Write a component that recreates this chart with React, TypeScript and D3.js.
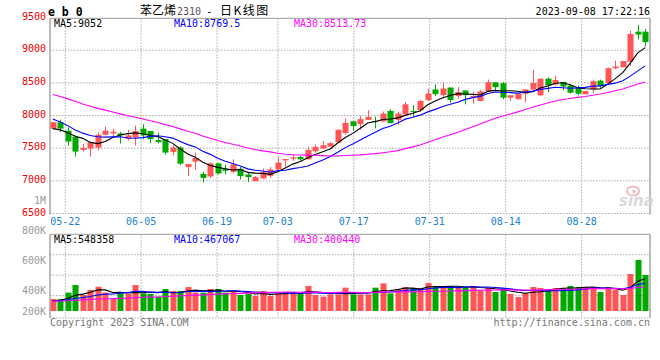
import React from 'react';
import * as d3 from 'd3';

// ---------- data ----------
const dates = [
  '05-18','05-19','05-22','05-23','05-24','05-25','05-26','05-29','05-30','05-31',
  '06-01','06-02','06-05','06-06','06-07','06-08','06-09','06-12','06-13','06-14',
  '06-15','06-16','06-19','06-20','06-21','06-26','06-27','06-28','06-29','06-30',
  '07-03','07-04','07-05','07-06','07-07','07-10','07-11','07-12','07-13','07-14',
  '07-17','07-18','07-19','07-20','07-21','07-24','07-25','07-26','07-27','07-28',
  '07-31','08-01','08-02','08-03','08-04','08-07','08-08','08-09','08-10','08-11',
  '08-14','08-15','08-16','08-17','08-18','08-21','08-22','08-23','08-24','08-25',
  '08-28','08-29','08-30','08-31','09-01','09-04','09-05','09-06','09-07','09-08'
];
const opens = [
  7800,7897,7768,7675,7474,7495,7510,7706,7727,7727,
  7644,7665,7799,7763,7624,7639,7443,7510,7211,7294,
  7105,7067,7268,7186,7139,7186,7098,6995,7036,7077,
  7175,7314,7340,7366,7330,7454,7495,7526,7588,7732,
  7912,7869,7934,7914,7909,8071,7934,8020,8071,8081,
  8237,8399,8313,8429,8298,8384,8278,8222,8374,8510,
  8495,8275,8250,8335,8400,8310,8565,8475,8515,8460,
  8425,8325,8400,8535,8500,8725,8740,8825,9285,9285
];
const highs = [
  7900,7938,7820,7696,7567,7603,7742,7830,7799,7747,
  7783,7845,7866,7763,7737,7639,7551,7531,7258,7433,
  7140,7278,7278,7247,7330,7211,7139,7072,7191,7211,
  7361,7335,7407,7381,7520,7557,7613,7598,7783,7959,
  7918,7995,8081,7985,8061,8096,8056,8207,8157,8237,
  8409,8475,8500,8429,8434,8384,8369,8394,8551,8510,
  8515,8310,8340,8400,8700,8570,8585,8610,8515,8475,
  8460,8375,8550,8550,8735,8840,8835,9300,9385,9325
];
const lows = [
  7795,7747,7541,7371,7448,7371,7464,7696,7680,7572,
  7619,7541,7639,7577,7577,7402,7386,7242,7072,7170,
  6975,7046,7098,7098,7119,7021,6979,6995,7036,7046,
  7165,7216,7304,7314,7330,7433,7485,7515,7588,7706,
  7768,7783,7934,7803,7909,7884,7859,7995,7985,8056,
  8222,8298,8263,8197,8263,8172,8182,8222,8374,8374,
  8250,8225,8250,8200,8400,8300,8360,8460,8385,8335,
  8310,8325,8350,8425,8500,8710,8740,8760,9165,9060
];
const closes = [
  7897,7800,7603,7448,7505,7588,7706,7768,7752,7696,
  7696,7763,7696,7639,7593,7433,7510,7263,7258,7350,
  7045,7268,7113,7155,7253,7072,7057,7057,7134,7175,
  7278,7335,7360,7330,7474,7520,7546,7577,7783,7887,
  7840,7945,7980,7899,8030,7884,8030,8172,8061,8222,
  8338,8328,8414,8237,8359,8313,8298,8369,8510,8434,
  8274,8310,8335,8400,8500,8565,8460,8545,8445,8350,
  8335,8375,8525,8450,8725,8750,8835,9250,9240,9125
];
// closes of the 29 sessions before the window (only feed the moving averages)
const prevCloses = [
  8690,8720,8650,8700,8620,8640,8580,8600,8560,8530,
  8480,8500,8430,8450,8380,8400,8330,8350,8280,8300,
  8250,8180,8100,8000,7950,7900,7820,7720,7664
];
const volumes = [
  180000,180000,296000,436000,253000,344000,405000,296000,192000,283000,
  271000,436000,283000,271000,222000,363000,326000,326000,399000,296000,
  296000,363000,363000,296000,314000,253000,271000,235000,326000,235000,
  283000,308000,302000,283000,418000,253000,222000,265000,265000,387000,
  265000,265000,265000,387000,466000,283000,363000,399000,381000,381000,
  472000,399000,399000,418000,381000,399000,418000,332000,381000,308000,
  344000,271000,216000,289000,399000,381000,338000,381000,381000,418000,
  399000,399000,399000,308000,399000,344000,253000,637000,893000,619000
];
const prevVolumes = [
  120000,135000,110000,150000,128000,142000,118000,160000,132000,145000,
  125000,138000,150000,128000,165000,140000,135000,158000,130000,148000,
  162000,138000,155000,142000,150000,128000,135000,150000,140000
];
const priceTicks = [9500, 9000, 8500, 8000, 7500, 7000, 6500];
const dateTicks = ['05-22','06-05','06-19','07-03','07-17','07-31','08-14','08-28'];
const volTicks = [800000, 600000, 400000, 200000];
const priceLegend = ['MA5:9052', 'MA10:8769.5', 'MA30:8513.73'];
const volLegend = ['MA5:548358', 'MA10:467067', 'MA30:400440'];
const maPeriods = [5, 10, 30];
const maColors = ['#000000', '#0000ff', '#ff00ff'];

// ---------- helpers ----------
function movingAvg(prev: number[], data: number[], n: number): number[] {
  const all = prev.concat(data);
  return data.map((_, i) => {
    const end = prev.length + i;
    return d3.mean(all.slice(end - n + 1, end + 1)) as number;
  });
}

const W = 660, H = 360;
const L = 50, R = 650;
const pTop = 18.3, pBot = 213.5;
const vTop = 234.3, vBot = 318, vBase = 311;
const RED = '#ff5555', GREEN = '#00a800';
const GRID = '#aaaaaa', FRAME = '#999999';
const MONO = '"DejaVu Sans Mono", "Liberation Mono", monospace';

export default function App() {
  const idx = d3.range(closes.length);
  const x = d3.scaleBand<number>().domain(idx).range([L - 1, R - 1]);
  const cx = (i: number) => (x(i) as number) + x.bandwidth() / 2;
  const gx = d3.scaleLinear().domain([0, closes.length - 1]).range([L, R]);
  const yP = d3.scaleLinear().domain([6500, 9500]).range([pBot, 17.6]);
  const yV = d3.scaleLinear().domain([-40000, 960000]).range([vBase, vBase - 1000 / 18.3]);
  const yVLabel = d3.scaleLinear().domain([400000, 800000]).range([290, 230]);

  const priceMA = maPeriods.map(n => movingAvg(prevCloses, closes, n));
  const volMA = maPeriods.map(n => movingAvg(prevVolumes, volumes, n));
  const lineP = d3.line<number>().x((_, i) => cx(i)).y(v => yP(v));
  const lineV = d3.line<number>().x((_, i) => cx(i)).y(v => yV(v));

  const gridXs = dateTicks.map(d => gx(dates.indexOf(d)));
  const vGridYs = d3.range(1, 4).map(k => vTop + (k * (316 - vTop)) / 4);
  const legendX = [54, 174, 294];

  return (
    <svg width={W} height={H} style={{ position: 'absolute', left: 0, top: 0, background: '#fff' }}
      fontFamily={MONO}>
      <rect x={0} y={0} width={W} height={H} fill="#fff" />

      {/* header */}
      <text x={48} y={16} fontSize={11.5} fontWeight="bold" fill="#000">e b 0</text>
      <text x={140} y={15} fontSize={12} fontFamily='"Noto Sans CJK SC", sans-serif' fill="#000">苯乙烯</text>
      <text x={177} y={15} fontSize={10} fill="#555">2310</text>
      <text x={206} y={15} fontSize={11} fill="#000">-</text>
      <text x={220} y={15} fontSize={12} letterSpacing={1.5} fontFamily='"Noto Sans CJK SC", sans-serif' fill="#000">日K线图</text>
      <text x={650} y={15} fontSize={10} textAnchor="end" fill="#000">2023-09-08 17:22:16</text>

      {/* price grid */}
      {priceTicks.slice(1).map(v => (
        <line key={'pg' + v} x1={L} x2={R} y1={yP(v)} y2={yP(v)} stroke={GRID} strokeDasharray="1.5,1.5" />
      ))}
      {gridXs.map((gxv, k) => (
        <line key={'pvg' + k} x1={gxv} x2={gxv} y1={pTop} y2={pBot} stroke={GRID} strokeDasharray="1.5,1.5" />
      ))}
      {gridXs.map((gxv, k) => (
        <line key={'vvg' + k} x1={gxv} x2={gxv} y1={vTop} y2={vBot} stroke={GRID} strokeDasharray="1.5,1.5" />
      ))}
      {vGridYs.map((y, k) => (
        <line key={'vhg' + k} x1={L} x2={R} y1={y} y2={y} stroke={GRID} strokeDasharray="1.5,1.5" />
      ))}
      <line x1={L} x2={R} y1={vBot} y2={vBot} stroke={GRID} strokeDasharray="1.5,1.5" />

      {/* frames */}
      <line x1={L} x2={R} y1={pTop} y2={pTop} stroke={FRAME} />
      <line x1={L} x2={L} y1={pTop} y2={pBot + 1} stroke={FRAME} strokeWidth={1.3} />
      <line x1={R} x2={R} y1={pTop} y2={pBot + 1} stroke={FRAME} strokeWidth={1.3} />
      <line x1={L} x2={R} y1={vTop} y2={vTop} stroke={FRAME} />
      <line x1={L} x2={L} y1={vTop} y2={vBot} stroke={FRAME} strokeWidth={1.3} />
      <line x1={R} x2={R} y1={vTop} y2={vBot} stroke={FRAME} strokeWidth={1.3} />

      {/* watermark */}
      <g opacity={0.9}>
        <ellipse cx={633} cy={191} rx={6} ry={4.5} fill="none" stroke="#f2b4b4" strokeWidth={2} />
        <circle cx={634} cy={191.5} r={1.8} fill="#f2b4b4" />
        <text x={619} y={206} fontSize={15} fontStyle="italic" fontWeight="bold"
          fontFamily='"DejaVu Sans", sans-serif' fill="#d6d6d6">sina</text>
      </g>

      {/* price axis labels */}
      {priceTicks.map(v => (
        <text key={'pt' + v} x={46} y={yP(v) + 2} fontSize={10} textAnchor="end" fill="#ee0000">{v}</text>
      ))}
      <text x={46} y={203.5} fontSize={10} textAnchor="end" fill="#999">1M</text>

      {/* date labels */}
      {dateTicks.map((d, k) => (
        <text key={'dt' + d} x={gridXs[k]} y={225} fontSize={10} textAnchor="middle" fill="#1b7fd4">{d}</text>
      ))}

      {/* candles */}
      {idx.map(i => {
        const up = closes[i] >= opens[i];
        const col = up ? RED : GREEN;
        const c = Math.round(cx(i));
        const yTop = yP(Math.max(opens[i], closes[i]));
        const yBotB = yP(Math.min(opens[i], closes[i]));
        return (
          <g key={'c' + i}>
            <line x1={c + 0.5} x2={c + 0.5} y1={yP(highs[i])} y2={yP(lows[i])} stroke={col} strokeWidth={1} />
            <rect x={c - 2.5} y={yTop} width={6} height={Math.max(1, yBotB - yTop)} fill={col} />
          </g>
        );
      })}

      {/* price MAs */}
      {priceMA.map((s, k) => (
        <path key={'pma' + k} d={lineP(s) as string} fill="none" stroke={maColors[k]} strokeWidth={1.1} />
      ))}

      {/* price legend */}
      {priceLegend.map((t, k) => (
        <text key={'pl' + k} x={legendX[k]} y={27} fontSize={10} fill={maColors[k]}>{t}</text>
      ))}

      {/* volume bars */}
      {idx.map(i => {
        const up = closes[i] >= opens[i];
        const c = Math.round(cx(i));
        const yTopV = yV(volumes[i]);
        return <rect key={'v' + i} x={c - 2.5} y={yTopV} width={6} height={vBase - yTopV} fill={up ? RED : GREEN} />;
      })}
      {volMA.map((s, k) => (
        <path key={'vma' + k} d={lineV(s) as string} fill="none" stroke={maColors[k]} strokeWidth={1.1} />
      ))}

      {/* volume labels */}
      {volTicks.map(v => (
        <text key={'vt' + v} x={46} y={Math.min(yVLabel(v), 311) + 3.6} fontSize={10} textAnchor="end" fill="#999">
          {v / 1000 + 'K'}
        </text>
      ))}
      {volLegend.map((t, k) => (
        <text key={'vl' + k} x={legendX[k]} y={242.5} fontSize={10} fill={maColors[k]}>{t}</text>
      ))}

      {/* footer */}
      <text x={50} y={326} fontSize={10} fill="#777">Copyright 2023 SINA.COM</text>
      <text x={650} y={326} fontSize={10} textAnchor="end" fill="#777">http://finance.sina.com.cn</text>
    </svg>
  );
}
